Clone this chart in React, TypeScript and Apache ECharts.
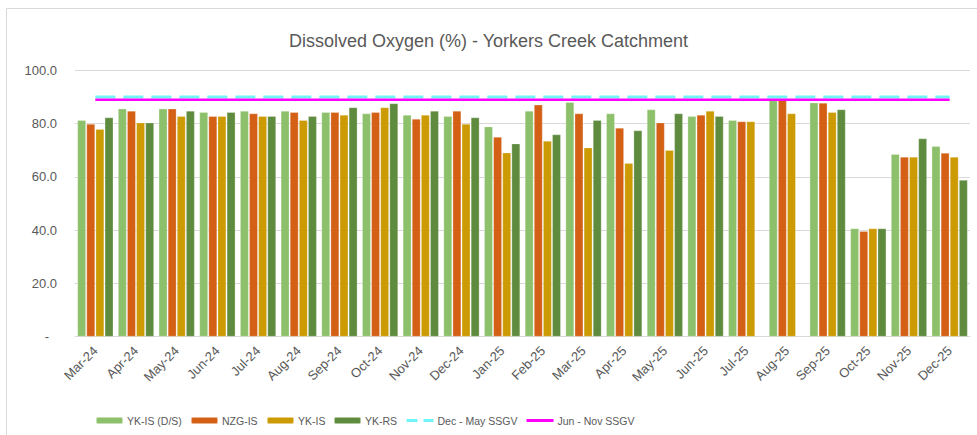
import React, { useEffect, useRef } from "react";
import * as echarts from "echarts";

const categories = [
  "Mar-24", "Apr-24", "May-24", "Jun-24", "Jul-24", "Aug-24", "Sep-24", "Oct-24", "Nov-24", "Dec-24",
  "Jan-25", "Feb-25", "Mar-25", "Apr-25", "May-25", "Jun-25", "Jul-25", "Aug-25", "Sep-25", "Oct-25", "Nov-25", "Dec-25",
];

const ykIsDs = [81.3, 85.6, 85.6, 84.3, 84.8, 84.8, 84.3, 83.8, 83.3, 82.8, 78.9, 84.8, 88.1, 83.8, 85.3, 82.8, 81.3, 88.9, 87.9, 40.6, 68.5, 71.5];
const nzgIs = [79.9, 84.8, 85.6, 82.8, 83.8, 84.3, 84.3, 84.3, 81.8, 84.8, 75.0, 87.1, 83.8, 78.4, 80.4, 83.3, 80.8, 89.0, 87.8, 39.6, 67.5, 69.0];
const ykIs = [77.9, 80.4, 82.8, 82.8, 82.8, 81.3, 83.3, 86.1, 83.3, 79.9, 69.1, 73.5, 71.0, 65.1, 70.0, 84.8, 80.8, 83.8, 84.3, 40.6, 67.5, 67.5];
const ykRs = [82.3, 80.4, 84.8, 84.3, 82.8, 82.8, 86.1, 87.6, 84.8, 82.3, 72.5, 75.9, 81.3, 77.4, 83.8, 82.8, null, null, 85.3, 40.6, 74.4, 58.8];
const decMaySsgv = categories.map(() => 90);
const junNovSsgv = categories.map(() => 89);

const yTicks = [0, 20, 40, 60, 80, 100];

const TEXT = "#595959";
const FONT = "'Liberation Sans', Arial, sans-serif";

export default function App() {
  const ref = useRef<HTMLDivElement>(null);
  useEffect(() => {
    document.body.style.margin = "0";
    if (!ref.current) return;
    const chart = echarts.init(ref.current, null, { renderer: "svg" });
    const barSeries = (name: string, data: (number | null)[], color: string) => ({
      name,
      type: "bar",
      data,
      barCategoryGap: "12%",
      barGap: "8%",
      itemStyle: { color, borderColor: "rgba(255,255,255,0.5)", borderWidth: 0.5 },
      z: 2,
    });
    const legendBase = {
      top: 410,
      itemWidth: 27,
      itemHeight: 7,
      textStyle: { color: TEXT, fontSize: 10.5, fontFamily: FONT, padding: [0, 0, 0, -1] },
    };
    chart.setOption({
      animation: false,
      backgroundColor: "#fff",
      title: {
        text: "Dissolved Oxygen (%) - Yorkers Creek Catchment",
        left: "center",
        top: 27,
        textStyle: { color: TEXT, fontSize: 18, fontWeight: "normal", fontFamily: FONT },
      },
      graphic: [
        {
          type: "rect",
          shape: { x: 6.5, y: 8.5, width: 1000, height: 500 },
          style: { fill: "none", stroke: "#d9d9d9", lineWidth: 1 },
          silent: true,
        },
      ],
      grid: { left: 75, right: 7, top: 70.5, bottom: 98.5, containLabel: false },
      xAxis: {
        type: "category",
        data: categories,
        axisLine: { lineStyle: { color: "#d9d9d9" } },
        axisTick: { show: false },
        axisLabel: { rotate: 45, interval: 0, color: TEXT, fontSize: 13, fontFamily: FONT, margin: 12 },
      },
      yAxis: {
        type: "value",
        min: yTicks[0],
        max: yTicks[yTicks.length - 1],
        interval: 20,
        axisLine: { show: false },
        axisTick: { show: false },
        splitLine: { lineStyle: { color: "#d9d9d9" } },
        axisLabel: {
          color: TEXT,
          fontSize: 13,
          fontFamily: FONT,
          margin: 18,
          formatter: (v: number) => (v === 0 ? "{d|-}" : v.toFixed(1)),
          rich: { d: { color: TEXT, fontSize: 13, fontFamily: FONT, padding: [0, 8, 0, 0] } },
        },
      },
      legend: [
        { ...legendBase, left: 90, data: ["YK-IS (D/S)"] },
        { ...legendBase, left: 185, data: ["NZG-IS"] },
        { ...legendBase, left: 261, data: ["YK-IS"] },
        { ...legendBase, left: 328, data: ["YK-RS"] },
        {
          ...legendBase,
          left: 400,
          data: ["Dec - May SSGV"],
          itemStyle: { opacity: 0 },
          lineStyle: { type: [11, 6], width: 3 },
        },
        {
          ...legendBase,
          left: 520,
          data: ["Jun - Nov SSGV"],
          itemStyle: { opacity: 0 },
          lineStyle: { width: 3 },
        },
      ],
      series: [
        barSeries("YK-IS (D/S)", ykIsDs, "#8dc06a"),
        barSeries("NZG-IS", nzgIs, "#d36014"),
        barSeries("YK-IS", ykIs, "#cc9a02"),
        barSeries("YK-RS", ykRs, "#5e8b3d"),
        {
          name: "Dec - May SSGV",
          type: "line",
          data: decMaySsgv,
          symbol: "none",
          lineStyle: { color: "#6ff5f5", width: 3, type: [20, 8] },
          itemStyle: { color: "#6ff5f5" },
          z: 5,
        },
        {
          name: "Jun - Nov SSGV",
          type: "line",
          data: junNovSsgv,
          symbol: "none",
          lineStyle: { color: "#ff00ff", width: 2.5 },
          itemStyle: { color: "#ff00ff" },
          z: 6,
        },
      ],
    });
    return () => chart.dispose();
  }, []);
  return <div ref={ref} style={{ width: 977, height: 435 }} />;
}
